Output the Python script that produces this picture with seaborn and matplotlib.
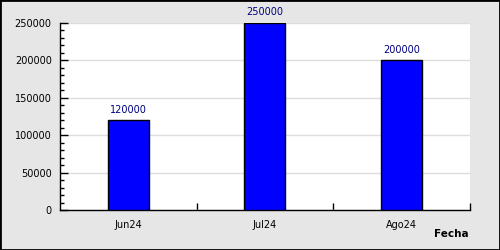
import matplotlib
matplotlib.use("Agg")
import matplotlib.pyplot as plt
import seaborn as sns
from matplotlib.ticker import MultipleLocator
from matplotlib.patches import Rectangle

categories = ["Jun24", "Jul24", "Ago24"]
values = [120000, 250000, 200000]
x_label = "Fecha"

sns.set_style("white")
plt.rcParams['font.family'] = ['DejaVu Sans']

fig = plt.figure(figsize=(5, 2.5), dpi=100, facecolor='#e6e6e6')
ax = fig.add_axes([0.12, 0.16, 0.82, 0.748])
ax.set_facecolor('white')

sns.barplot(x=categories, y=values, color='#0000ff', saturation=1, width=0.3,
            edgecolor='black', linewidth=1, ax=ax, zorder=3)

ax.set_xlim(-0.5, 2.5)
ax.set_ylim(0, 250000)
ax.yaxis.set_major_locator(MultipleLocator(50000))
ax.yaxis.set_minor_locator(MultipleLocator(10000))
ax.grid(axis='y', which='major', color='#dddddd', linewidth=1, zorder=0)
ax.set_axisbelow(True)

for s in ['top', 'right']:
    ax.spines[s].set_visible(False)
for s in ['left', 'bottom']:
    ax.spines[s].set_color('black')
    ax.spines[s].set_linewidth(1)

ax.tick_params(axis='y', which='major', direction='in', length=6, width=1, labelsize=7, pad=6,
               color='black', labelcolor='black', left=True)
ax.tick_params(axis='y', which='minor', direction='in', length=3, width=1, color='black', left=True)
ax.set_xticks([0.5, 1.5, 2.5], minor=True)
ax.tick_params(axis='x', which='major', length=0, labelsize=7, pad=7, labelcolor='black')
ax.tick_params(axis='x', which='minor', direction='in', length=5, width=1, color='black', bottom=True)

ax.set_xlabel("")
ax.set_ylabel("")

for c in ax.containers:
    ax.bar_label(c, labels=[str(v) for v in values], color='#000080', fontsize=7, padding=4)

fig.text(0.938, 0.064, x_label, ha='right', va='center', fontsize=7.5, weight='bold', color='black')

fig.patches.append(Rectangle((0, 0), 1, 1, transform=fig.transFigure, fill=False,
                             edgecolor='black', linewidth=2, zorder=10))

fig.savefig("out.png", dpi=100, facecolor='#e6e6e6')
